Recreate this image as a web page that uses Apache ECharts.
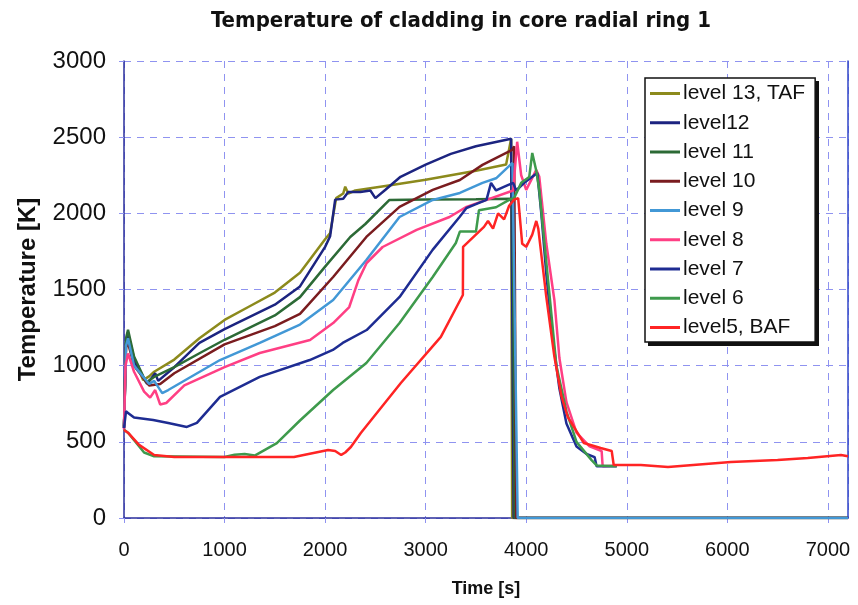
<!DOCTYPE html>
<html>
<head>
<meta charset="utf-8">
<script src="https://cdn.jsdelivr.net/npm/echarts@6/dist/echarts.min.js"></script>
<style>
  html, body { margin: 0; padding: 0; background: #fff; }
  #chart { width: 858px; height: 605px; }
</style>
</head>
<body>
<div id="chart"></div>
<script>
// cladding temperature per axial level, [time s, temperature K]
const seriesNames = ['level 13, TAF', 'level12', 'level 11', 'level 10', 'level 9', 'level 8', 'level 7', 'level 6', 'level5, BAF'];
const seriesColors = ['#8c8a1c', '#1c2480', '#2c6a36', '#7a1c1f', '#4298d6', '#ff3f84', '#1e2c92', '#3e9a4c', '#ff2424'];

const level13 = [[0, 600], [20, 1150], [40, 1210], [100, 1050], [190, 905], [250, 930], [300, 960], [500, 1040], [750, 1180], [1000, 1300], [1250, 1390], [1500, 1480], [1750, 1610], [2000, 1830], [2050, 1870], [2110, 2100], [2180, 2130], [2200, 2175], [2230, 2130], [2300, 2150], [2600, 2180], [3000, 2220], [3500, 2280], [3800, 2320], [3850, 2490], [3860, 0], [7200, 0]];
const level12 = [[0, 590], [20, 1150], [40, 1195], [100, 1030], [230, 880], [310, 950], [340, 900], [500, 990], [750, 1150], [1000, 1240], [1250, 1320], [1500, 1400], [1750, 1520], [2000, 1780], [2050, 1850], [2100, 2090], [2180, 2095], [2230, 2140], [2350, 2140], [2450, 2150], [2500, 2100], [2600, 2155], [2750, 2240], [3000, 2320], [3250, 2390], [3500, 2440], [3850, 2490], [3875, 0], [7200, 0]];
const level11 = [[0, 600], [20, 1180], [40, 1235], [100, 1060], [220, 890], [310, 930], [500, 990], [755, 1083], [1000, 1170], [1250, 1250], [1500, 1330], [1750, 1450], [2000, 1650], [2250, 1845], [2400, 1930], [2640, 2088], [3000, 2090], [3500, 2092], [3865, 2095], [3885, 0], [7200, 0]];
const level10 = [[0, 590], [20, 1120], [40, 1150], [100, 1000], [250, 870], [360, 880], [500, 950], [1000, 1140], [1500, 1260], [1750, 1340], [2080, 1582], [2410, 1845], [2740, 2042], [3070, 2154], [3340, 2219], [3565, 2318], [3860, 2416], [3880, 2440], [3900, 0], [7200, 0]];
const level9 = [[0, 590], [20, 1130], [40, 1180], [100, 1000], [250, 880], [300, 900], [380, 820], [440, 840], [955, 1037], [1350, 1149], [1750, 1270], [2080, 1431], [2410, 1694], [2740, 1976], [3070, 2088], [3340, 2134], [3565, 2200], [3700, 2230], [3863, 2331], [3915, 0], [7200, 0]];
const level8 = [[0, 580], [15, 1000], [40, 1080], [100, 960], [200, 830], [260, 790], [310, 840], [360, 745], [420, 755], [600, 870], [1000, 990], [1350, 1083], [1850, 1169], [2080, 1280], [2240, 1385], [2330, 1560], [2413, 1674], [2572, 1779], [2910, 1891], [3237, 1976], [3406, 2042], [3605, 2088], [3870, 2150], [3910, 2470], [3950, 2250], [4000, 2154], [4100, 2285], [4130, 2240], [4200, 1800], [4280, 1431], [4330, 1050], [4400, 760], [4500, 560], [4630, 470], [4750, 440], [4760, 340], [4900, 345]];
const level7 = [[0, 590], [20, 700], [40, 690], [100, 660], [290, 643], [440, 624], [625, 598], [725, 624], [955, 795], [1350, 926], [1847, 1037], [2077, 1103], [2175, 1149], [2413, 1234], [2741, 1451], [3069, 1760], [3337, 1976], [3406, 2035], [3500, 2060], [3605, 2088], [3650, 2200], [3700, 2150], [3800, 2180], [3870, 2200], [3900, 2150], [3980, 2200], [4110, 2265], [4150, 2000], [4200, 1600], [4260, 1200], [4330, 850], [4400, 620], [4500, 470], [4600, 420], [4680, 400], [4700, 340], [4900, 340]];
const level6 = [[0, 580], [40, 560], [200, 430], [300, 405], [1000, 400], [1100, 415], [1200, 420], [1300, 410], [1520, 492], [1750, 640], [2080, 840], [2410, 1017], [2740, 1280], [3070, 1582], [3300, 1805], [3340, 1880], [3500, 1880], [3530, 2020], [3700, 2040], [3830, 2088], [3880, 2100], [3950, 2200], [4030, 2239], [4060, 2396], [4100, 2280], [4130, 2150], [4230, 1477], [4300, 1000], [4400, 700], [4500, 500], [4650, 380], [4700, 345], [4900, 340]];
const level5 = [[0, 578], [40, 560], [150, 480], [300, 414], [500, 400], [1690, 400], [2030, 446], [2100, 440], [2160, 414], [2200, 430], [2256, 466], [2355, 558], [2753, 886], [3151, 1189], [3370, 1464], [3372, 1780], [3580, 1911], [3620, 1950], [3670, 1900], [3720, 2000], [3780, 1960], [3830, 2050], [3880, 2090], [3920, 2100], [3960, 1800], [4000, 1780], [4060, 1860], [4100, 1950], [4120, 1900], [4200, 1450], [4280, 1060], [4350, 800], [4413, 663], [4573, 492], [4740, 460], [4850, 440], [4870, 348], [5140, 348], [5410, 335], [6035, 368], [6500, 380], [6800, 394], [7130, 414], [7200, 405]];

const allData = [level13, level12, level11, level10, level9, level8, level7, level6, level5];

const xTicks = { min: 0, max: 7200, interval: 1000 };
const yTicks = { min: 0, max: 3000, interval: 500 };

const axisBlue = '#2b2f9c';
const gridBlue = '#8f93f0';
const sans = "'Liberation Sans', Arial, sans-serif";
const condensed = "'DejaVu Sans Condensed', 'Liberation Sans', Arial, sans-serif";

const chart = echarts.init(document.getElementById('chart'));

chart.setOption({
    animation: false,
    backgroundColor: '#fff',
    title: {
        text: 'Temperature of cladding in core radial ring 1',
        left: 206,
        top: 5,
        textStyle: { fontFamily: condensed, fontWeight: 'bold', fontSize: 22, color: '#111' }
    },
    grid: { left: 124, right: 10, top: 61, bottom: 87 },
    // drop shadow of the legend box
    graphic: [{
        type: 'rect',
        left: 648,
        top: 81,
        z: 3,
        shape: { width: 171, height: 265 },
        style: { fill: '#111' }
    }],
    legend: {
        orient: 'vertical',
        left: 645,
        top: 78,
        z: 10,
        data: seriesNames,
        icon: 'rect',
        itemWidth: 30,
        itemHeight: 3,
        itemGap: 8.25,
        padding: [5, 10, 4, 5],
        backgroundColor: '#fff',
        borderColor: '#111',
        borderWidth: 1.5,
        textStyle: { fontFamily: sans, fontSize: 21, lineHeight: 21, color: '#111', padding: [0, 0, 0, -2] }
    },
    xAxis: {
        type: 'value',
        min: xTicks.min,
        max: xTicks.max,
        interval: xTicks.interval,
        name: 'Time [s]',
        nameLocation: 'middle',
        nameGap: 62,
        nameTextStyle: { fontFamily: sans, fontWeight: 'bold', fontSize: 18, color: '#111' },
        axisLine: { lineStyle: { color: axisBlue, width: 1.5 } },
        axisTick: { length: 5, lineStyle: { color: gridBlue } },
        axisLabel: { showMaxLabel: false, margin: 22, fontFamily: sans, fontSize: 20, color: '#111', formatter: v => String(v) },
        splitLine: { lineStyle: { color: gridBlue, type: [7, 6] } }
    },
    yAxis: [{
        type: 'value',
        min: yTicks.min,
        max: yTicks.max,
        interval: yTicks.interval,
        name: 'Temperature [K]',
        nameLocation: 'middle',
        nameGap: 84,
        nameTextStyle: { fontFamily: sans, fontWeight: 'bold', fontSize: 24, color: '#111' },
        axisLine: { show: true, lineStyle: { color: axisBlue, width: 1.5 } },
        axisTick: { show: true, length: 5, lineStyle: { color: gridBlue } },
        axisLabel: { margin: 18, fontFamily: sans, fontSize: 24, color: '#111', formatter: v => String(v) },
        splitLine: { lineStyle: { color: gridBlue, type: [7, 6] } }
    }, {
        type: 'value',
        position: 'right',
        min: yTicks.min,
        max: yTicks.max,
        interval: yTicks.interval,
        axisLine: { show: true, lineStyle: { color: '#3046c8', width: 1.5 } },
        axisTick: { show: false },
        axisLabel: { show: false },
        splitLine: { show: false }
    }],
    series: seriesNames.map((name, i) => ({
        name: name,
        type: 'line',
        data: allData[i],
        showSymbol: false,
        color: seriesColors[i],
        lineStyle: { width: 2.5, color: seriesColors[i] }
    }))
});
</script>
</body>
</html>
